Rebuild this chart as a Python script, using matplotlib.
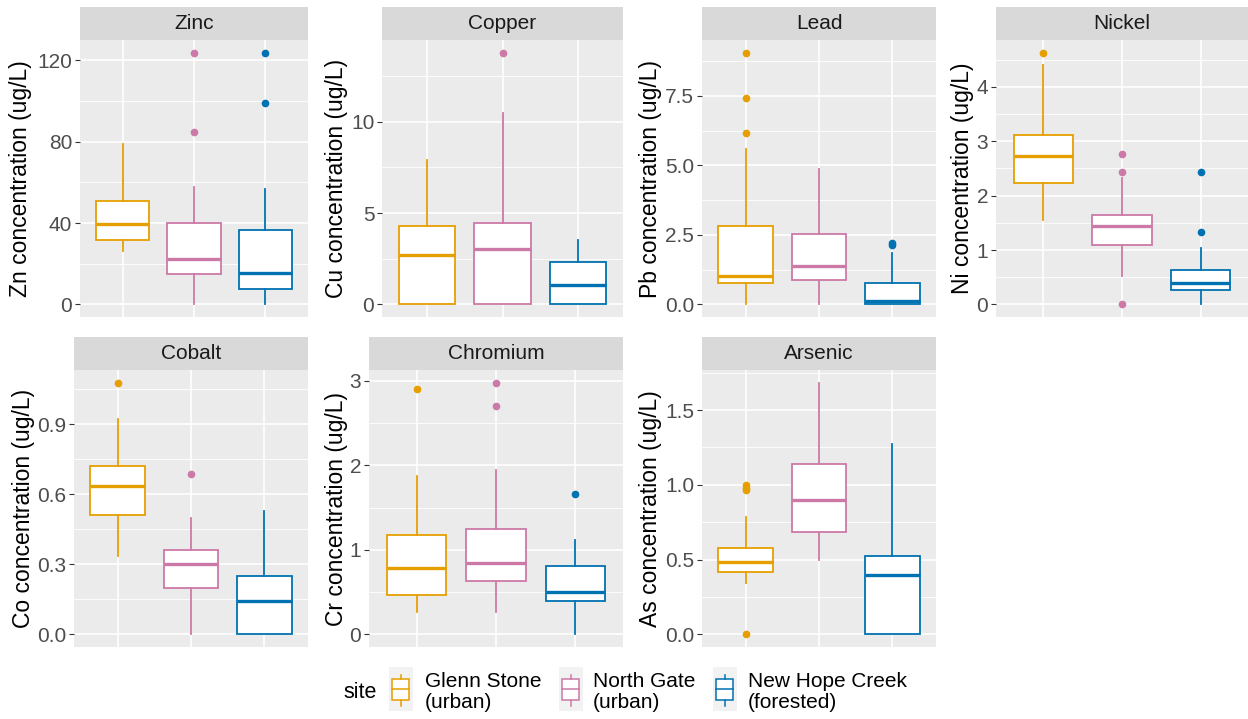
import matplotlib
matplotlib.use("Agg")
import matplotlib.pyplot as plt
from matplotlib.patches import Rectangle

plt.rcParams['font.family'] = ['Liberation Sans', 'DejaVu Sans']

# ---- data ----
sites = ['Glenn Stone\n(urban)', 'North Gate\n(urban)', 'New Hope Creek\n(forested)']
site_colors = ['#E69F00', '#CC79A7', '#0072B2']

metals = ['Zinc', 'Copper', 'Lead', 'Nickel', 'Cobalt', 'Chromium', 'Arsenic']
ylabels = ['Zn concentration (ug/L)', 'Cu concentration (ug/L)', 'Pb concentration (ug/L)',
           'Ni concentration (ug/L)', 'Co concentration (ug/L)', 'Cr concentration (ug/L)',
           'As concentration (ug/L)']

# per site: [lower whisker, Q1, median, Q3, upper whisker]
zinc_stats = [[26.2, 31.6, 39.5, 51.0, 78.7], [0, 15.1, 22.1, 40.2, 57.7], [0, 7.4, 15.4, 36.7, 56.6]]
zinc_fliers = [[], [84.8, 123.8], [99.2, 123.8]]
copper_stats = [[0, 0, 2.73, 4.28, 7.92], [0, 0, 3.04, 4.46, 10.47], [0, 0, 1.04, 2.31, 3.55]]
copper_fliers = [[], [13.79], []]
lead_stats = [[0, 0.76, 1.02, 2.82, 5.58], [0, 0.88, 1.38, 2.52, 4.86], [0, 0.0, 0.12, 0.76, 1.84]]
lead_fliers = [[6.18, 7.42, 9.06], [], [2.15, 2.22]]
nickel_stats = [[1.55, 2.24, 2.73, 3.12, 4.40], [0.52, 1.10, 1.44, 1.64, 2.33], [0, 0.27, 0.39, 0.63, 1.03]]
nickel_fliers = [[4.63], [0, 2.44, 2.77], [1.33, 2.44]]
cobalt_stats = [[0.335, 0.513, 0.637, 0.719, 0.922], [0, 0.20, 0.303, 0.36, 0.499], [0, 0, 0.142, 0.252, 0.527]]
cobalt_fliers = [[1.078], [0.685], []]
chromium_stats = [[0.264, 0.465, 0.78, 1.18, 1.88], [0.264, 0.63, 0.84, 1.25, 1.95], [0, 0.394, 0.504, 0.807, 1.12]]
chromium_fliers = [[2.91], [2.70, 2.98], [1.66]]
arsenic_stats = [[0.344, 0.416, 0.482, 0.576, 0.784], [0.50, 0.682, 0.90, 1.138, 1.684], [0, 0, 0.40, 0.527, 1.271]]
arsenic_fliers = [[0, 0.967, 0.98, 1.0], [], []]

all_stats = [zinc_stats, copper_stats, lead_stats, nickel_stats, cobalt_stats, chromium_stats, arsenic_stats]
all_fliers = [zinc_fliers, copper_fliers, lead_fliers, nickel_fliers, cobalt_fliers, chromium_fliers, arsenic_fliers]

yticks = [[0, 40, 80, 120], [0, 5, 10], [0, 2.5, 5.0, 7.5], [0, 1, 2, 3, 4],
          [0, 0.3, 0.6, 0.9], [0, 1, 2, 3], [0, 0.5, 1.0, 1.5]]
ytick_labels = [['0', '40', '80', '120'], ['0', '5', '10'], ['0.0', '2.5', '5.0', '7.5'],
                ['0', '1', '2', '3', '4'], ['0.0', '0.3', '0.6', '0.9'], ['0', '1', '2', '3'],
                ['0.0', '0.5', '1.0', '1.5']]

# ---- layout in pixels: panel left, right, top, bottom; y-label centre x ----
W, H = 1248, 719
panel_px = [(80, 308, 40, 317), (382, 623, 40, 317), (702, 936, 40, 317), (996, 1248, 40, 317),
            (74, 308, 370, 647), (369, 623, 370, 647), (702, 936, 370, 647)]
ylab_x = [21, 337, 651, 962, 24, 337, 651]
strip_h = 33

fig = plt.figure(figsize=(W / 100, H / 100), dpi=100)


def px_axes(x0, x1, y0, y1):
    return fig.add_axes([x0 / W, 1 - y1 / H, (x1 - x0) / W, (y1 - y0) / H])


for k, metal in enumerate(metals):
    x0, x1, y0, y1 = panel_px[k]
    ax = px_axes(x0, x1, y0, y1)
    ax.set_facecolor('#EBEBEB')
    for s in ax.spines.values():
        s.set_visible(False)

    lo, hi = None, None
    for i, st in enumerate(all_stats[k]):
        c = site_colors[i]
        stat = dict(whislo=st[0], q1=st[1], med=st[2], q3=st[3], whishi=st[4], fliers=all_fliers[k][i])
        ax.bxp([stat], positions=[i + 1], widths=0.75, patch_artist=True, showcaps=False,
               boxprops=dict(facecolor='white', edgecolor=c, linewidth=1.3),
               whiskerprops=dict(color=c, linewidth=1.3),
               medianprops=dict(color=c, linewidth=2.4, solid_capstyle='butt'),
               flierprops=dict(marker='o', markerfacecolor=c, markeredgecolor=c, markersize=4.5),
               zorder=3)
        vals = [st[0], st[4]] + all_fliers[k][i]
        lo = min(vals) if lo is None else min(lo, min(vals))
        hi = max(vals) if hi is None else max(hi, max(vals))

    pad = (hi - lo) * 0.05
    ax.set_ylim(lo - pad, hi + pad)
    ax.set_xlim(0.4, 3.6)

    t = yticks[k]
    minors = [(a + b) / 2 for a, b in zip(t[:-1], t[1:])]
    step = t[1] - t[0]
    if t[0] - step / 2 >= lo - pad:
        minors.insert(0, t[0] - step / 2)
    if t[-1] + step / 2 <= hi + pad:
        minors.append(t[-1] + step / 2)
    ax.set_yticks(t)
    ax.set_yticklabels(ytick_labels[k])
    ax.set_yticks(minors, minor=True)
    ax.set_xticks([1, 2, 3])
    ax.set_xticklabels([])
    ax.tick_params(axis='x', length=0)
    ax.tick_params(axis='y', which='major', length=3.5, width=0.8, color='#333333',
                   labelsize=15, labelcolor='#4D4D4D', pad=2)
    ax.tick_params(axis='y', which='minor', length=0)
    ax.grid(True, which='major', color='white', linewidth=1.2, zorder=0)
    ax.grid(True, which='minor', axis='y', color='white', linewidth=0.6, zorder=0)
    ax.set_axisbelow(True)

    # strip
    sax = px_axes(x0, x1, y0 - strip_h, y0)
    sax.set_facecolor('#D9D9D9')
    sax.set_xticks([])
    sax.set_yticks([])
    for s in sax.spines.values():
        s.set_visible(False)
    sax.text(0.5, 0.5, metal, ha='center', va='center', fontsize=15, color='#1A1A1A',
             transform=sax.transAxes)

    fig.text(ylab_x[k] / W, 1 - ((y0 + y1) / 2) / H, ylabels[k], rotation=90,
             ha='center', va='center', fontsize=16.5, color='black')

# ---- legend ----
fig.text(343 / W, 1 - 692 / H, 'site', ha='left', va='center', fontsize=15.5)
key_x = [389, 559, 713]
label_x = [425, 593, 748]
for i, name in enumerate(sites):
    kx = key_x[i]
    kax = px_axes(kx, kx + 23.5, 666.5, 710.5)
    kax.set_facecolor('#F2F2F2')
    kax.set_xlim(0, 1)
    kax.set_ylim(1, 0)
    kax.set_xticks([])
    kax.set_yticks([])
    for s in kax.spines.values():
        s.set_visible(False)
    c = site_colors[i]
    kax.plot([0.5, 0.5], [0.2, 0.29], color=c, lw=1.1)
    kax.plot([0.5, 0.5], [0.75, 0.89], color=c, lw=1.1)
    kax.add_patch(Rectangle((0.14, 0.29), 0.73, 0.46, facecolor='white', edgecolor=c, lw=1.1))
    kax.plot([0.14, 0.87], [0.52, 0.52], color=c, lw=1.1)
    fig.text(label_x[i] / W, 1 - 692 / H, name, ha='left', va='center', fontsize=15,
             linespacing=1.1)

fig.savefig('out.png', dpi=100, facecolor='white')
